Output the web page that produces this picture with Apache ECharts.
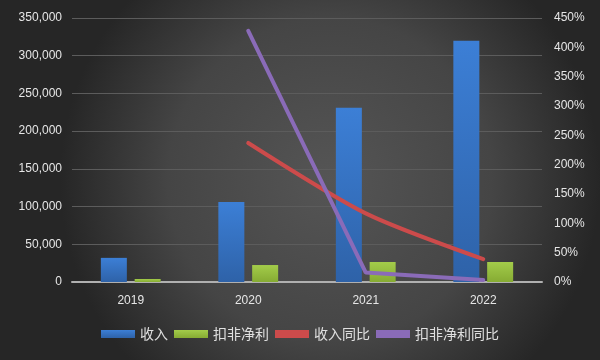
<!DOCTYPE html>
<html><head><meta charset="utf-8">
<script src="https://cdn.jsdelivr.net/npm/echarts@6/dist/echarts.min.js"></script>
<style>html,body{margin:0;padding:0;}#c{width:600px;height:360px;}</style>
</head><body><div id="c"></div>
<script>
const categories = ['2019', '2020', '2021', '2022'];
const revenue = [32000, 106000, 231000, 320000];
const netProfit = [4000, 22500, 26500, 26500];
const revenueYoY = [null, 237, 117, 39];
const profitYoY = [null, 428, 16, 3.5];
const leftTicks = { min: 0, max: 350000, interval: 50000 };
const rightTicks = { min: 0, max: 450, interval: 50 };

const chart = echarts.init(document.getElementById('c'));
const font = '"Liberation Sans", "DejaVu Sans", sans-serif';
const cjk = '"Noto Sans CJK SC", sans-serif';
chart.setOption({
  backgroundColor: new echarts.graphic.RadialGradient(0.55, 0.5, 0.75, [
    { offset: 0, color: '#555555' },
    { offset: 0.6, color: '#454545' },
    { offset: 1, color: '#262626' }
  ]),
  animation: false,
  grid: { left: 72, right: 58, top: 18, bottom: 78 },
  legend: {
    bottom: 14, left: 'center', itemWidth: 34, itemHeight: 8, itemGap: 6,
    textStyle: { color: '#e0e0e0', fontSize: 14, fontFamily: cjk },
    data: [
      { name: '收入', icon: 'rect' },
      { name: '扣非净利', icon: 'rect' },
      { name: '收入同比', icon: 'rect', itemStyle: { color: '#cc4b4b' } },
      { name: '扣非净利同比', icon: 'rect', itemStyle: { color: '#8a6bb8' } }
    ]
  },
  xAxis: {
    type: 'category', data: categories,
    axisLine: { lineStyle: { color: '#b0b0b0', width: 2 } },
    axisTick: { show: false },
    axisLabel: { color: '#e6e6e6', fontSize: 12, fontFamily: font, margin: 13 }
  },
  yAxis: [
    {
      type: 'value', min: leftTicks.min, max: leftTicks.max, interval: leftTicks.interval,
      axisLine: { show: false }, axisTick: { show: false },
      splitLine: { lineStyle: { color: '#5c5c5c', width: 1 } },
      axisLabel: { color: '#e6e6e6', fontSize: 12, fontFamily: font, margin: 10,
        formatter: v => v.toLocaleString('en-US') }
    },
    {
      type: 'value', min: rightTicks.min, max: rightTicks.max, interval: rightTicks.interval,
      axisLine: { show: false }, axisTick: { show: false }, splitLine: { show: false },
      axisLabel: { color: '#e6e6e6', fontSize: 12, fontFamily: font, margin: 12,
        formatter: v => v + '%' }
    }
  ],
  series: [
    {
      name: '收入', type: 'bar', data: revenue, barWidth: 26, barGap: '30%',
      itemStyle: { color: new echarts.graphic.LinearGradient(0, 0, 0, 1, [
        { offset: 0, color: '#3c7fd6' }, { offset: 1, color: '#2e62a8' }]) }
    },
    {
      name: '扣非净利', type: 'bar', data: netProfit, barWidth: 26,
      itemStyle: { color: new echarts.graphic.LinearGradient(0, 0, 0, 1, [
        { offset: 0, color: '#a3cc4a' }, { offset: 1, color: '#86ab33' }]) }
    },
    {
      name: '收入同比', type: 'line', yAxisIndex: 1, data: revenueYoY,
      smooth: 0.25, showSymbol: false, symbol: 'none',
      lineStyle: { color: '#cc4b4b', width: 4, cap: 'round' }, itemStyle: { color: '#cc4b4b' }
    },
    {
      name: '扣非净利同比', type: 'line', yAxisIndex: 1, data: profitYoY,
      showSymbol: false, symbol: 'none',
      lineStyle: { color: '#8a6bb8', width: 4, cap: 'round' }, itemStyle: { color: '#8a6bb8' }
    }
  ]
});
</script></body></html>
